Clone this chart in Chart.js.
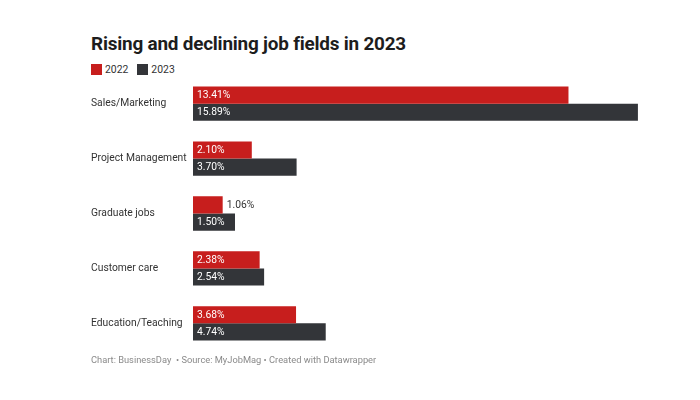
<!DOCTYPE html>
<html>
<head>
<meta charset="utf-8">
<script src="https://cdn.jsdelivr.net/npm/chart.js@4.4.0/dist/chart.umd.min.js"></script>
<style>
  body { margin:0; width:700px; height:400px; background:#fff; font-family: Roboto, sans-serif; position:relative; overflow:hidden; }
  #title { position:absolute; left:91px; top:32px; font-size:18.9px; font-weight:700; color:#1d1d1d; letter-spacing:-0.2px; }
  #legend { position:absolute; left:91px; top:63px; font-size:10.4px; color:#333; }
  #legend span.sw { display:inline-block; width:11px; height:11px; vertical-align:-2px; margin-right:3px; }
  #legend span.it { margin-right:9px; }
  #foot { position:absolute; left:91px; top:354px; font-size:9.3px; color:#8a8a8a; }
  #wrap { position:absolute; left:0; top:70px; width:700px; height:287px; }
</style>
</head>
<body>
<div id="title">Rising and declining job fields in 2023</div>
<div id="legend"><span class="sw" style="background:#c71e1d"></span><span class="it">2022</span><span class="sw" style="background:#333539"></span><span>2023</span></div>
<div id="wrap"><canvas id="grafico"></canvas></div>
<div id="foot">Chart: BusinessDay &nbsp;• Source: MyJobMag • Created with Datawrapper</div>
<script>
// dados do gráfico
const categorias = ["Sales/Marketing", "Project Management", "Graduate jobs", "Customer care", "Education/Teaching"];
const valores2022 = [13.41, 2.10, 1.06, 2.38, 3.68];
const valores2023 = [15.89, 3.70, 1.50, 2.54, 4.74];

const vermelho = '#c71e1d';
const cinza = '#333539';

// rótulos dentro das barras (ou fora quando não cabem)
const rotulos = {
  id: 'rotulos',
  afterDatasetsDraw(chart) {
    const ctx = chart.ctx;
    ctx.save();
    ctx.font = '10.3px Roboto';
    ctx.textBaseline = 'middle';
    ctx.textAlign = 'left';
    chart.data.datasets.forEach((ds, i) => {
      chart.getDatasetMeta(i).data.forEach((bar, j) => {
        const txt = ds.data[j].toFixed(2) + '%';
        const w = ctx.measureText(txt).width;
        const left = bar.base;
        if (bar.x - left > w + 8) {
          ctx.fillStyle = '#fff';
          ctx.fillText(txt, left + 4, bar.y + 0.5);
        } else {
          ctx.fillStyle = '#333';
          ctx.fillText(txt, bar.x + 4, bar.y + 0.5);
        }
      });
    });
    ctx.restore();
  }
};

new Chart(document.getElementById('grafico'), {
  type: 'bar',
  data: {
    labels: categorias,
    datasets: [
      { label: '2022', data: valores2022, backgroundColor: vermelho },
      { label: '2023', data: valores2023, backgroundColor: cinza }
    ]
  },
  options: {
    indexAxis: 'y',
    responsive: true,
    maintainAspectRatio: false,
    animation: false,
    barPercentage: 1,
    categoryPercentage: 0.624,
    layout: { padding: { left: 91, right: 59, top: 0, bottom: 0 } },
    plugins: {
      legend: { display: false },
      tooltip: { enabled: false }
    },
    scales: {
      x: { display: false, min: 0, max: 16 },
      y: {
        grid: { display: false },
        border: { display: false },
        ticks: { crossAlign: 'far', color: '#333', font: { family: 'Roboto', size: 10.3 }, padding: 0 },
        afterFit: (s) => { s.width = 102; }
      }
    }
  },
  plugins: [rotulos]
});
</script>
</body>
</html>
